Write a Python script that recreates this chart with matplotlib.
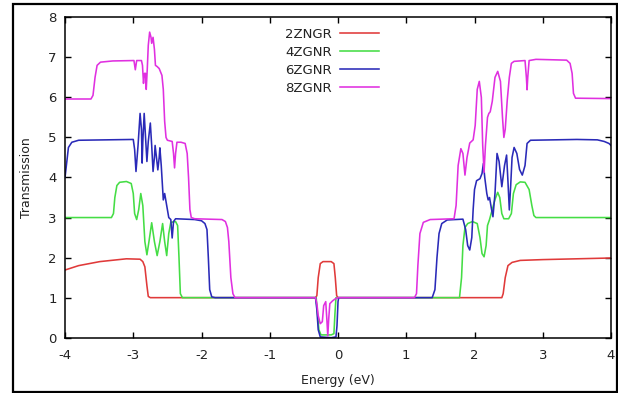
#!/usr/bin/env python3
# -*- coding: utf-8 -*-

"""
Transmission spectra of zigzag graphene nanoribbons
"""
import matplotlib
matplotlib.use('Agg')
import matplotlib.pyplot as plt
import matplotlib.ticker as ticker
from matplotlib.patches import Rectangle


LABELS = ['2ZNGR', '4ZGNR', '6ZGNR', '8ZGNR']
COLORS = ['#e03a3a', '#45dd45', '#2a2ab8', '#e030e0']

# 2ZNGR (energy in eV, transmission)
e_2z = [-4.0, -3.8, -3.49, -3.1, -2.9, -2.86, -2.83, -2.8, -2.78, -2.75, -2.6,
        -0.33, -0.31, -0.29, -0.26, -0.22, -0.1, -0.06, -0.04, -0.02, 0.0,
        2.4, 2.42, 2.45, 2.49, 2.55, 2.67, 3.0, 3.5, 4.0]
t_2z = [1.69, 1.8, 1.9, 1.97, 1.96, 1.9, 1.77, 1.3, 1.03, 1.0, 1.0,
        1.0, 1.05, 1.5, 1.85, 1.9, 1.9, 1.85, 1.5, 1.05, 1.0,
        1.0, 1.1, 1.5, 1.8, 1.88, 1.93, 1.95, 1.97, 1.99]

# 4ZGNR
e_4z = [-4.0, -3.32, -3.29, -3.27, -3.24, -3.2, -3.1, -3.03, -3.0, -2.98,
        -2.95, -2.92, -2.89, -2.86, -2.83, -2.80, -2.77, -2.73, -2.69, -2.65,
        -2.61, -2.57, -2.54, -2.51, -2.48, -2.45, -2.38, -2.35, -2.33, -2.31,
        -2.28,
        -0.32, -0.30, -0.28, -0.25, -0.1, -0.06, -0.045, -0.03,
        1.78, 1.81, 1.83, 1.86, 1.9, 1.97, 2.04, 2.08, 2.11, 2.14,
        2.17, 2.19, 2.22, 2.26, 2.30, 2.34, 2.37, 2.40, 2.43, 2.5,
        2.54, 2.57, 2.61, 2.67, 2.74, 2.80, 2.84, 2.87, 2.9, 4.0]
t_4z = [3.0, 3.0, 3.1, 3.5, 3.8, 3.88, 3.9, 3.85, 3.6, 3.1,
        2.95, 3.2, 3.6, 3.3, 2.4, 2.07, 2.4, 2.87, 2.4, 2.05,
        2.4, 2.85, 2.4, 2.05, 2.6, 2.88, 2.9, 2.8, 2.0, 1.1,
        1.0,
        1.0, 0.6, 0.2, 0.07, 0.07, 0.1, 0.6, 1.0,
        1.0, 1.5, 2.3, 2.75, 2.85, 2.9, 2.85, 2.5, 2.1, 2.02,
        2.3, 2.8, 2.95, 3.2, 3.45, 3.63, 3.5, 3.1, 2.97, 2.97,
        3.1, 3.6, 3.82, 3.89, 3.88, 3.7, 3.3, 3.05, 3.0, 3.0]

# 6ZGNR
e_6z = [-4.0, -3.98, -3.95, -3.9, -3.8, -3.0, -2.98, -2.96, -2.93, -2.9,
        -2.88, -2.87, -2.86, -2.84, -2.82, -2.80, -2.78, -2.75, -2.73, -2.71,
        -2.69, -2.68, -2.66, -2.64, -2.62, -2.61, -2.59, -2.56, -2.54, -2.51,
        -2.48, -2.45, -2.43, -2.41, -2.38, -2.1, -2.0, -1.95, -1.92, -1.9,
        -1.88, -1.85, -1.8,
        -0.33, -0.31, -0.29, -0.26, -0.1, -0.03, -0.015, 0.0, 0.01,
        1.38, 1.42, 1.45, 1.48, 1.52, 1.6, 1.83, 1.87, 1.9, 1.93,
        1.96, 1.98, 2.0, 2.03, 2.08, 2.11, 2.13, 2.15, 2.18, 2.2,
        2.22, 2.25, 2.27, 2.3, 2.33, 2.36, 2.4, 2.44, 2.47, 2.49,
        2.51, 2.53, 2.55, 2.58, 2.62, 2.66, 2.7, 2.74, 2.77, 2.82,
        3.5, 3.8, 3.9, 3.97, 4.0]
t_6z = [4.0, 4.3, 4.75, 4.88, 4.93, 4.95, 4.7, 4.15, 4.8, 5.6,
        5.2, 4.36, 4.9, 5.6, 5.0, 4.4, 4.9, 5.36, 4.8, 4.15,
        4.5, 4.8, 4.5, 4.19, 4.5, 4.74, 4.3, 3.44, 3.6, 3.3,
        3.0, 2.95, 2.49, 2.9, 2.97, 2.95, 2.92, 2.85, 2.7, 2.0,
        1.2, 1.02, 1.0,
        1.0, 0.7, 0.2, 0.02, 0.0, 0.02, 0.3, 0.9, 1.0,
        1.0, 1.2, 2.0, 2.6, 2.85, 2.94, 2.96, 2.7, 2.3, 2.19,
        2.5, 3.2, 3.7, 3.92, 3.97, 4.1, 4.35, 4.0, 3.6, 3.44,
        3.5, 3.2, 3.02, 3.6, 4.6, 4.4, 3.77, 4.3, 4.56, 3.9,
        3.19, 3.8, 4.5, 4.75, 4.6, 4.2, 4.06, 4.3, 4.85, 4.93,
        4.95, 4.94, 4.9, 4.85, 4.8]

# 8ZGNR
e_8z = [-4.0, -3.62, -3.59, -3.56, -3.53, -3.48, -3.3, -2.99, -2.97, -2.95,
        -2.88, -2.865, -2.85, -2.835, -2.82, -2.81, -2.795, -2.78, -2.76, -2.74,
        -2.73, -2.71, -2.69, -2.675, -2.65, -2.62, -2.58, -2.56, -2.54, -2.52,
        -2.5, -2.43, -2.41, -2.395, -2.38, -2.36, -2.3, -2.24, -2.21, -2.19,
        -2.17, -2.15, -2.1, -1.7, -1.65, -1.62, -1.6, -1.57, -1.54, -1.51,
        -0.33, -0.31, -0.29, -0.26, -0.23, -0.21, -0.18, -0.165, -0.15, -0.135,
        -0.12, -0.08, -0.04, 0.0,
        1.12, 1.15, 1.17, 1.2, 1.25, 1.35, 1.7, 1.73, 1.76, 1.8,
        1.83, 1.86, 1.89, 1.93, 1.98, 2.01, 2.04, 2.07, 2.1, 2.12,
        2.14, 2.16, 2.19, 2.21, 2.23, 2.26, 2.3, 2.34, 2.38, 2.41,
        2.43, 2.45, 2.48, 2.51, 2.54, 2.58, 2.74, 2.76, 2.77, 2.78,
        2.8, 2.9, 3.35, 3.4, 3.43, 3.45, 3.48, 4.0]
t_8z = [5.96, 5.96, 6.05, 6.5, 6.8, 6.88, 6.91, 6.92, 6.69, 6.92,
        6.92, 6.8, 6.35, 6.6, 6.6, 6.2, 6.7, 7.3, 7.63, 7.5,
        7.35, 7.5, 7.2, 6.8, 6.77, 6.72, 6.55, 6.2, 5.4, 5.0,
        4.93, 4.9, 4.6, 4.24, 4.6, 4.88, 4.88, 4.85, 4.6, 4.0,
        3.2, 3.0, 2.97, 2.95, 2.9, 2.75, 2.4, 1.5, 1.1, 1.0,
        1.0, 0.85, 0.55, 0.35, 0.4, 0.8, 0.9, 0.5, 0.05, 0.5,
        0.85, 0.92, 0.97, 1.0,
        1.0, 1.1, 1.8, 2.6, 2.88, 2.95, 2.97, 3.3, 4.3, 4.72,
        4.6, 4.06, 4.5, 4.86, 4.94, 5.3, 6.2, 6.4, 6.0, 4.8,
        4.13, 4.8, 5.5, 5.6, 5.64, 5.9, 6.5, 6.65, 6.4, 5.5,
        5.0, 5.2, 5.94, 6.5, 6.85, 6.9, 6.92, 6.5, 6.19, 6.5,
        6.92, 6.95, 6.93, 6.85, 6.6, 6.1, 5.98, 5.97]


def plot_transmission():
    plt.rcParams['axes.unicode_minus'] = False
    fig = plt.figure(figsize=(6.18, 3.93), dpi=100)
    ax = fig.add_axes([0.1052, 0.1407, 0.8835, 0.8153])

    series = [(e_2z, t_2z), (e_4z, t_4z), (e_6z, t_6z), (e_8z, t_8z)]
    for (e, t), lab, col in zip(series, LABELS, COLORS):
        ax.plot(e, t, '-', color=col, lw=1.15, label=lab)

    ax.set_xlim([-4, 4])
    ax.set_ylim([0, 8])
    ax.xaxis.set_major_locator(ticker.MultipleLocator(1))
    ax.yaxis.set_major_locator(ticker.MultipleLocator(1))
    ax.tick_params(direction='in', top=True, right=True, length=4,
                   width=1, labelsize=9.5, labelcolor='#222222')
    ax.tick_params(axis='x', pad=8)
    ax.tick_params(axis='y', pad=6)
    for sp in ax.spines.values():
        sp.set_linewidth(1.1)

    ax.set_xlabel('Energy (eV)', fontsize=9, color='#222222', labelpad=9)
    ax.set_ylabel('Transmission', fontsize=9, color='#222222', labelpad=11)

    ax.legend(loc='upper left', bbox_to_anchor=(0.403, 0.968),
              frameon=False, markerfirst=False, fontsize=9.5,
              handlelength=3.0, handletextpad=0.6, labelspacing=0.38,
              borderpad=0, borderaxespad=0, labelcolor='#222222')

    # outer frame around the whole picture
    fig.patches.append(Rectangle((0.021, 0.003), 0.977, 0.987,
                                 transform=fig.transFigure, fill=False,
                                 edgecolor='black', lw=1.6))

    fig.savefig('out.png', dpi=100)


if __name__ == '__main__':
    plot_transmission()
